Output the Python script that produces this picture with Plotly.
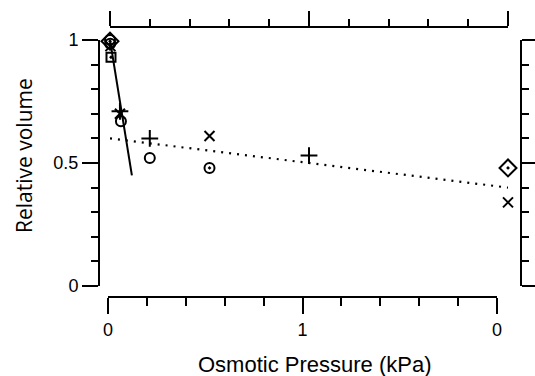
import plotly.graph_objects as go

W, H = 535, 376

# ---- data ----
x_plus = [0.0, 0.05, 0.2, 1.0]
y_plus = [1.01, 0.71, 0.60, 0.53]
x_cross = [0.002, 0.05, 0.5, 2.0]
y_cross = [0.975, 0.70, 0.61, 0.34]
x_circ = [0.0, 0.055, 0.2]
y_circ = [1.0, 0.67, 0.52]
x_circdot = [0.001, 0.5]
y_circdot = [0.985, 0.48]
x_diam = [0.0, 2.0]
y_diam = [0.995, 0.48]
x_square = [0.005]
y_square = [0.93]
fit1_x = [0.0, 0.11]
fit1_y = [1.0, 0.45]
fit2_x = [0.0, 2.0]
fit2_y = [0.60, 0.40]
bottom_tickvals = [0, 1, 2]
bottom_ticktext = ["0", "1", "0"]
left_tickvals = [0, 0.5, 1]
left_ticktext = ["0", "0.5", "1"]

def px_x(p):
    return p / W

def px_y(p):
    return 1 - p / H

fig = go.Figure()

fig.add_trace(go.Scatter(x=fit2_x, y=fit2_y, mode="lines", cliponaxis=False,
                         line=dict(color="black", width=2.2, dash="2px,6px")))
fig.add_trace(go.Scatter(x=fit1_x, y=fit1_y, mode="lines", cliponaxis=False,
                         line=dict(color="black", width=2)))

def mk(x, y, sym, size):
    fig.add_trace(go.Scatter(x=x, y=y, mode="markers", cliponaxis=False,
                             marker=dict(symbol=sym, size=size, color="black",
                                         line=dict(width=2, color="black"))))

mk(x_diam, y_diam, "diamond-open-dot", 13)
mk(x_circ, y_circ, "circle-open", 10)
mk(x_circdot, y_circdot, "circle-open-dot", 10)
mk(x_square, y_square, "square-open-dot", 9)
mk(x_plus, y_plus, "cross-thin-open", 12)
mk(x_cross, y_cross, "x-thin-open", 10)

# dummy traces to make the extra axes exist
fig.add_trace(go.Scatter(x=[None], y=[None], xaxis="x2", yaxis="y", mode="markers", hoverinfo="skip"))
fig.add_trace(go.Scatter(x=[None], y=[None], xaxis="x", yaxis="y2", mode="markers", hoverinfo="skip"))

common = dict(showgrid=False, zeroline=False, showline=True, linecolor="black",
              linewidth=2, ticks="outside", tickcolor="black", tickwidth=2,
              automargin=False)
tickfont = dict(family="Liberation Sans, Arial", size=18, color="black")

fig.update_layout(
    width=W, height=H,
    margin=dict(l=0, r=0, t=0, b=0),
    paper_bgcolor="white", plot_bgcolor="rgba(0,0,0,0)",
    showlegend=False,
    xaxis=dict(**common, domain=[px_x(110), px_x(508)], range=[0, 2],
               anchor="free", position=px_y(27), side="top",
               tickvals=bottom_tickvals, ticklen=15, showticklabels=False,
               minor=dict(dtick=0.2, tick0=0, ticklen=7, tickwidth=2,
                          tickcolor="black", ticks="outside")),
    xaxis2=dict(**common, domain=[px_x(108), px_x(497)], range=[0, 2],
                anchor="free", position=px_y(297), side="bottom",
                tickmode="array", tickvals=bottom_tickvals, ticktext=bottom_ticktext,
                ticklen=16, tickfont=tickfont,
                minor=dict(dtick=0.2, tick0=0, ticklen=8, tickwidth=2,
                           tickcolor="black", ticks="outside")),
    yaxis=dict(**common, domain=[px_y(286), px_y(40)], range=[0, 1],
               anchor="free", position=px_x(99), side="left",
               tickmode="array", tickvals=left_tickvals, ticktext=left_ticktext,
               ticklen=16, tickfont=tickfont,
               minor=dict(dtick=0.1, tick0=0, ticklen=7, tickwidth=2,
                          tickcolor="black", ticks="outside")),
    yaxis2=dict(**common, range=[0, 1], overlaying="y",
                anchor="free", position=px_x(521), side="right",
                tickvals=left_tickvals, ticklen=16, showticklabels=False,
                minor=dict(dtick=0.1, tick0=0, ticklen=7, tickwidth=2,
                           tickcolor="black", ticks="outside")),
    annotations=[
        dict(text="Osmotic Pressure (kPa)", x=px_x(315), y=px_y(364),
             xref="paper", yref="paper", showarrow=False,
             xanchor="center", yanchor="middle",
             font=dict(family="Liberation Sans, Arial", size=22, color="black")),
        dict(text="Relative volume", x=px_x(24), y=px_y(156),
             xref="paper", yref="paper", showarrow=False, textangle=-90,
             xanchor="center", yanchor="middle",
             font=dict(family="Open Sans", size=21, color="black")),
    ],
)

fig.write_html("out.html", config={"displayModeBar": False},
               post_script="document.body.style.margin='0';document.body.style.padding='0';document.body.style.overflow='hidden';")
